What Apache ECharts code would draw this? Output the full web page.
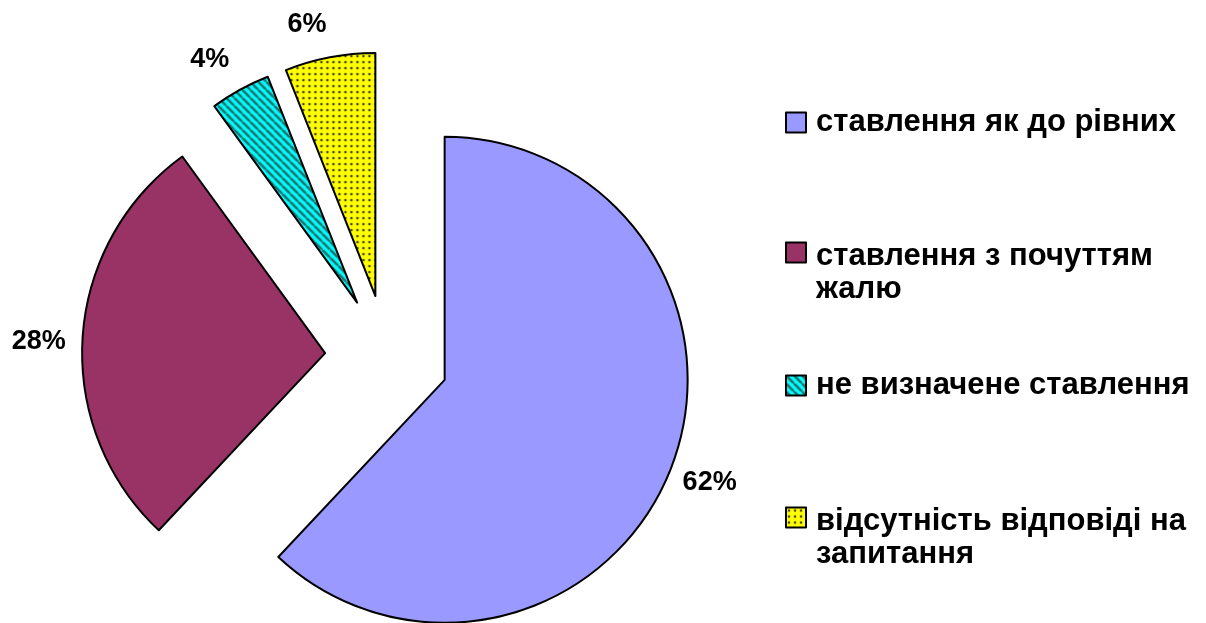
<!DOCTYPE html>
<html lang="uk">
  <head>
    <meta charset="UTF-8" />
    <title>Ставлення</title>
    <script src="https://cdn.jsdelivr.net/npm/echarts@6/dist/echarts.min.js"></script>
    <style>
      * { margin: 0; padding: 0; }
      body { background: #fff; }
      #chart { width: 1206px; height: 623px; }
    </style>
  </head>
  <body>
    <div id="chart"></div>
    <script>
      /* ---------- data ---------- */
      const categories = [
        "ставлення як до рівних",
        "ставлення з почуттям жалю",
        "не визначене ставлення",
        "відсутність відповіді на запитання",
      ];
      const values = [62, 28, 4, 6];
      // legend text split the way it wraps in the picture
      const legendLines = [
        ["ставлення як до рівних"],
        ["ставлення з почуттям", "жалю"],
        ["не визначене ставлення"],
        ["відсутність відповіді на", "запитання"],
      ];

      /* ---------- fills ---------- */
      function hatch() {
        const c = document.createElement("canvas");
        c.width = 8; c.height = 8;
        const g = c.getContext("2d");
        g.fillStyle = "#00ffff";
        g.fillRect(0, 0, 8, 8);
        g.strokeStyle = "#247070";
        g.lineWidth = 2.6;
        for (const o of [-8, 0, 8]) {
          g.beginPath();
          g.moveTo(o, 0);
          g.lineTo(o + 8, 8);
          g.stroke();
        }
        return { image: c, repeat: "repeat" };
      }
      function dots() {
        const c = document.createElement("canvas");
        c.width = 6; c.height = 6;
        const g = c.getContext("2d");
        g.fillStyle = "#ffff00";
        g.fillRect(0, 0, 6, 6);
        g.fillStyle = "#444430";
        g.beginPath();
        g.arc(3, 3, 1.3, 0, Math.PI * 2);
        g.fill();
        return { image: c, repeat: "repeat" };
      }
      const fills = ["#9999ff", "#993366", hatch(), dots()];

      /* ---------- layout tweaks ---------- */
      const font = "'Liberation Sans', Arial, sans-serif";
      const legendTops = [106, 199, 369, 464];
      // small shifts so the labels sit where the original placed them
      const labelNudge = [[0, -2], [-2, 6], [-10, 7], [-15, 8]];

      const chart = echarts.init(document.getElementById("chart"), null, {
        renderer: "canvas",
      });

      const textBase = {
        fontFamily: font,
        fontWeight: "bold",
        fontSize: 31,
        color: "#000",
      };

      const legends = categories.map((name, i) => {
        const lines = legendLines[i];
        const rich =
          lines.length > 1
            ? "{gap| }\n" + lines.map((l) => "{t|" + l + "}").join("\n")
            : "{t|" + lines[0] + "}";
        return {
          left: 785,
          top: legendTops[i],
          padding: 0,
          orient: "vertical",
          icon: "rect",
          itemWidth: 20,
          itemHeight: 20,
          selectedMode: false,
          data: [name],
          formatter: () => rich,
          textStyle: {
            ...textBase,
            lineHeight: 33,
            padding: [0, 0, 0, 5],
            rich: {
              t: { ...textBase, lineHeight: 33 },
              gap: { ...textBase, lineHeight: 41 },
            },
          },
        };
      });

      chart.setOption({
        backgroundColor: "#fff",
        animation: false,
        legend: legends,
        series: [
          {
            type: "pie",
            center: [387, 357],
            radius: 243,
            startAngle: 90,
            clockwise: true,
            selectedMode: "multiple",
            selectedOffset: 62,
            avoidLabelOverlap: false,
            silent: true,
            itemStyle: { borderColor: "#000", borderWidth: 2 },
            label: {
              show: true,
              position: "outside",
              formatter: "{c}%",
              fontFamily: font,
              fontWeight: "bold",
              fontSize: 27,
              color: "#000",
              distanceToLabelLine: 0,
            },
            labelLine: { show: false, length: 42, length2: 0 },
            labelLayout: (p) => ({
              align: "center",
              verticalAlign: "middle",
              dx: labelNudge[p.dataIndex][0],
              dy: labelNudge[p.dataIndex][1],
            }),
            data: categories.map((name, i) => ({
              name,
              value: values[i],
              selected: true,
              itemStyle: { color: fills[i] },
            })),
          },
        ],
      });
    </script>
  </body>
</html>
